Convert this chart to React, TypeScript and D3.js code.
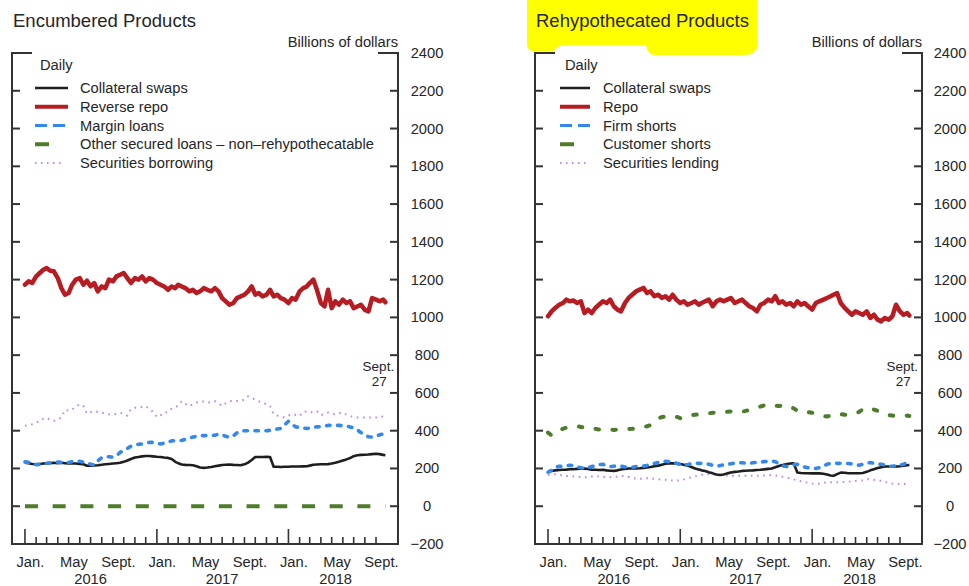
import React from "react";
import * as d3 from "d3";

// ---------- categories (observation dates: 1st, 11th, 21st of each month, plus Sept. 27, 2018) ----------
const OBS_DAYS = [1, 11, 21];
const FIRST_YEAR = 2016;
const N_MONTHS = 33; // Jan 2016 .. Sept 2018
const LAST_OBS = "2018-09-27";

function buildDates(): Date[] {
  const out: Date[] = [];
  for (let m = 0; m < N_MONTHS; m++) for (const d of OBS_DAYS) out.push(new Date(FIRST_YEAR, m, d));
  out.push(new Date(LAST_OBS + "T00:00:00"));
  return out;
}
const DATES = buildDates();

const Y_TICKS = [-200, 0, 200, 400, 600, 800, 1000, 1200, 1400, 1600, 1800, 2000, 2200, 2400];
const MONTH_LABELS = [
  { month: 0, label: "Jan." },
  { month: 4, label: "May" },
  { month: 8, label: "Sept." },
];
const YEARS = [2016, 2017, 2018];
const YEAR_LABEL_DATES = ["2016-07-01", "2017-07-01", "2018-05-12"];

// ---------- Encumbered products (left) ----------
const encCollateralSwaps = [
  231, 228, 224, 222, 224, 226, 227, 228, 230, 228,
  230, 228, 226, 226, 226, 224, 222, 214, 214, 216,
  217, 220, 222, 224, 226, 228, 230, 235, 242, 250,
  258, 261, 264, 266, 266, 264, 262, 261, 258, 256,
  250, 235, 228, 221, 219, 218, 217, 212, 205, 203,
  205, 208, 212, 215, 218, 220, 221, 219, 218, 217,
  222, 231, 245, 261, 261, 261, 262, 261, 209, 209,
  208, 209, 209, 210, 210, 210, 211, 212, 215, 220,
  221, 222, 222, 223, 226, 230, 235, 242, 248, 255,
  265, 270, 272, 273, 274, 276, 278, 276, 272, 270,
];
const encReverseRepo = [
  1173, 1191, 1182, 1217, 1235, 1252, 1261, 1247, 1244, 1208,
  1155, 1120, 1129, 1173, 1200, 1208, 1173, 1194, 1164, 1182,
  1138, 1164, 1155, 1200, 1191, 1217, 1226, 1235, 1208, 1182,
  1208, 1200, 1217, 1191, 1208, 1200, 1182, 1173, 1164, 1146,
  1164, 1155, 1173, 1164, 1155, 1138, 1146, 1129, 1138, 1155,
  1146, 1138, 1155, 1138, 1102, 1085, 1067, 1076, 1102, 1111,
  1120, 1138, 1164, 1120, 1129, 1111, 1120, 1146, 1111, 1120,
  1102, 1094, 1076, 1102, 1094, 1138, 1155, 1164, 1182, 1200,
  1146, 1076, 1058, 1146, 1049, 1085, 1067, 1094, 1076, 1085,
  1049, 1058, 1067, 1040, 1032, 1102, 1094, 1085, 1094, 1080,
];
const encMarginLoans = [
  235, 232, 228, 220, 222, 226, 228, 230, 232, 234,
  232, 231, 232, 236, 240, 238, 234, 232, 222, 218,
  240, 258, 262, 262, 260, 268, 285, 296, 306, 318,
  324, 328, 330, 334, 338, 338, 334, 330, 334, 340,
  346, 348, 348, 348, 355, 362, 366, 370, 374, 374,
  374, 374, 376, 382, 378, 370, 365, 372, 388, 398,
  400, 400, 400, 400, 400, 400, 400, 402, 406, 409,
  412, 430, 450, 435, 420, 418, 414, 412, 414, 418,
  420, 422, 424, 428, 430, 430, 428, 426, 424, 420,
  414, 405, 390, 376, 368, 366, 370, 378, 383, 385,
];
const encOtherDates = ["2016-01-01", "2018-09-27"];
const encOtherSecured = [0, 0];
const encSecBorrowing = [
  426, 430, 434, 440, 455, 463, 468, 458, 452, 458,
  470, 510, 506, 512, 528, 540, 530, 490, 498, 502,
  500, 496, 490, 487, 487, 488, 494, 490, 480, 515,
  522, 522, 526, 530, 515, 500, 472, 482, 485, 508,
  516, 522, 535, 556, 542, 530, 540, 548, 555, 554,
  548, 552, 556, 545, 531, 545, 556, 557, 557, 557,
  565, 582, 572, 565, 556, 548, 540, 530, 487, 480,
  476, 470, 480, 487, 484, 478, 500, 502, 497, 498,
  503, 482, 488, 496, 490, 487, 492, 496, 485, 478,
  472, 470, 470, 470, 470, 470, 470, 472, 475, 470,
];

// ---------- Rehypothecated products (right) ----------
const rehCollateralSwaps = [
  185, 187, 190, 192, 193, 194, 196, 196, 198, 200,
  199, 197, 194, 193, 192, 193, 190, 188, 187, 190,
  194, 198, 200, 200, 200, 201, 203, 205, 208, 212,
  215, 220, 225, 227, 227, 226, 224, 220, 215, 208,
  200, 195, 190, 187, 180, 174, 168, 165, 168, 174,
  179, 182, 184, 187, 188, 189, 190, 192, 193, 195,
  198, 200, 206, 213, 218, 222, 226, 227, 179, 176,
  175, 175, 174, 174, 174, 172, 168, 163, 161, 170,
  178, 177, 175, 175, 175, 175, 176, 182, 190, 196,
  202, 207, 210, 210, 210, 210, 212, 215, 217, 218,
];
const rehRepo = [
  1006, 1032, 1050, 1067, 1076, 1094, 1085, 1090, 1076, 1085,
  1023, 1041, 1023, 1050, 1067, 1085, 1076, 1094, 1059, 1041,
  1032, 1076, 1103, 1120, 1138, 1147, 1156, 1129, 1138, 1112,
  1120, 1103, 1112, 1094, 1120, 1094, 1076, 1085, 1067, 1076,
  1085, 1067, 1076, 1085, 1094, 1059, 1085, 1094, 1085, 1094,
  1103, 1076, 1085, 1094, 1076, 1059, 1050, 1032, 1067, 1076,
  1094, 1085, 1112, 1076, 1085, 1067, 1076, 1059, 1085, 1067,
  1076, 1059, 1041, 1076, 1085, 1094, 1103, 1112, 1120, 1129,
  1076, 1050, 1032, 1014, 1032, 1023, 1014, 1032, 997, 1014,
  988, 979, 997, 988, 1006, 1067, 1032, 1014, 1023, 1010,
];
const rehFirmShorts = [
  180, 190, 205, 212, 210, 214, 217, 214, 208, 204,
  200, 204, 210, 215, 220, 222, 215, 210, 212, 214,
  212, 208, 205, 206, 210, 210, 212, 216, 222, 226,
  232, 238, 238, 236, 234, 228, 220, 217, 220, 225,
  227, 227, 227, 227, 222, 216, 213, 215, 220, 222,
  225, 228, 231, 230, 228, 227, 230, 233, 234, 236,
  238, 239, 236, 225, 214, 210, 214, 220, 222, 215,
  208, 204, 202, 200, 204, 212, 222, 226, 227, 227,
  227, 227, 226, 224, 220, 217, 222, 228, 231, 228,
  224, 222, 218, 212, 212, 215, 217, 222, 232, 234,
];
const rehCustomerShorts = [
  390, 375, 385, 400, 410, 416, 418, 422, 424, 420,
  416, 414, 416, 410, 406, 404, 405, 406, 404, 406,
  406, 406, 408, 410, 414, 418, 422, 423, 430, 450,
  465, 472, 475, 478, 476, 474, 466, 474, 478, 482,
  485, 486, 488, 490, 492, 495, 496, 497, 499, 500,
  502, 504, 505, 500, 505, 510, 515, 522, 528, 534,
  538, 536, 534, 530, 534, 536, 528, 518, 505, 497,
  495, 498, 495, 488, 482, 478, 475, 480, 486, 490,
  488, 484, 486, 487, 490, 500, 512, 522, 520, 512,
  505, 496, 488, 482, 480, 478, 476, 478, 480, 478,
];
const rehSecLending = [
  165, 168, 170, 166, 162, 160, 160, 158, 156, 154,
  153, 155, 158, 160, 158, 156, 154, 153, 155, 158,
  161, 160, 155, 150, 146, 145, 146, 148, 147, 145,
  143, 141, 140, 138, 136, 135, 138, 142, 148, 153,
  158, 161, 165, 168, 170, 168, 166, 165, 164, 163,
  162, 161, 161, 161, 161, 161, 161, 161, 162, 163,
  164, 165, 163, 160, 156, 153, 148, 142, 136, 132,
  128, 124, 120, 118, 120, 124, 127, 127, 127, 127,
  128, 129, 130, 132, 134, 135, 138, 142, 144, 140,
  136, 135, 130, 124, 120, 118, 118, 118, 120, 123,
];

// ---------- styles ----------
const FONT = '"Liberation Sans", Arial, Helvetica, sans-serif';
const TXT = "#262626";
const AXIS = "#333";
const C_BLACK = "#1e1e1e";
const C_RED = "#b71c22";
const C_BLUE = "#3388ee";
const C_GREEN = "#4d7c2a";
const C_PURPLE = "#b988f0";
const FS = 14.7;

type Kind = "black" | "red" | "blue" | "green" | "purple";
type Series = { name: string; kind: Kind; dates: Date[]; values: number[]; dash?: string; cap?: string };

const parse = (s: string) => new Date(s + "T00:00:00");

const STYLE: Record<Kind, { color: string; width: number; dash?: string; cap: string }> = {
  black: { color: C_BLACK, width: 2.6, cap: "butt" },
  red: { color: C_RED, width: 4.5, cap: "round" },
  blue: { color: C_BLUE, width: 3.6, dash: "3.5 7.5", cap: "round" },
  green: { color: C_GREEN, width: 4, dash: "13 14.7", cap: "butt" },
  purple: { color: C_PURPLE, width: 2, dash: "1.6 4.6", cap: "butt" },
};

const DRAW_ORDER: Kind[] = ["purple", "green", "black", "blue", "red"];

function Swatch({ kind, s0, s1, y }: { kind: Kind; s0: number; s1: number; y: number }) {
  const st = STYLE[kind];
  if (kind === "blue")
    return (
      <g stroke={st.color} strokeWidth={3}>
        <line x1={s0} x2={s0 + 12} y1={y} y2={y} />
        <line x1={s0 + 18} x2={s0 + 30} y1={y} y2={y} />
      </g>
    );
  if (kind === "green") return <line x1={s0} x2={s0 + 14} y1={y} y2={y} stroke={st.color} strokeWidth={4} />;
  if (kind === "purple")
    return <line x1={s0} x2={s0 + 26} y1={y} y2={y} stroke={st.color} strokeWidth={2} strokeDasharray="1.5 4.5" />;
  return <line x1={s0} x2={s1} y1={y} y2={y} stroke={st.color} strokeWidth={kind === "red" ? 4 : 2.5} />;
}

type PanelProps = {
  x0: number;
  x1: number;
  title: string;
  highlight?: boolean;
  series: Series[];
  legendSwatch: [number, number];
  legendText: number;
  labelX: number;
};

function Panel({ x0, x1, title, highlight, series, legendSwatch, legendText, labelX }: PanelProps) {
  const yTop = 53;
  const yBot = 544;
  const x = d3.scaleTime().domain([parse("2015-11-26"), parse("2018-11-01")]).range([x0, x1]);
  const y = d3.scaleLinear().domain([-200, 2400]).range([yBot, yTop]);
  const months = d3.timeMonth.range(new Date(2016, 0, 1), new Date(2018, 9, 1));
  const endX = x(parse(LAST_OBS));

  const ordered = DRAW_ORDER.map((k) => series.find((s) => s.kind === k)!).filter(Boolean);

  return (
    <g fontFamily={FONT} fill={TXT}>
      {highlight && (
        <path
          d={`M${x0 - 8},0 L${x0 + 223},0 L${x0 + 223},44 C${x0 + 222},52 ${x0 + 217},55 ${x0 + 209},55 L${x0 + 120},55 C${x0 + 114},55 ${x0 + 112},50 ${x0 + 111},45 L${x0 + 27},45 C${x0 + 23},45 ${x0 + 21},52 ${x0 + 13},52 L${x0 - 3},51 C${x0 - 7},50 ${x0 - 8},46 ${x0 - 8},42 Z`}
          fill="#ffff00"
        />
      )}
      <text x={x0 + 1} y={27} fontSize={18.5}>
        {title}
      </text>
      <text x={x1} y={47} fontSize={FS} textAnchor="end">
        Billions of dollars
      </text>

      {/* series */}
      <g fill="none">
        {ordered.map((s) => {
          const st = STYLE[s.kind];
          const line = d3
            .line<number>()
            .x((_, i) => x(s.dates[i]))
            .y((v) => y(v));
          return (
            <path
              key={s.name}
              d={line(s.values) || ""}
              stroke={st.color}
              strokeWidth={st.width}
              strokeDasharray={s.dash ?? st.dash}
              strokeLinecap={(s.cap ?? st.cap) as any}
              strokeLinejoin="round"
            />
          );
        })}
      </g>

      {/* frame */}
      <g stroke={AXIS} strokeWidth={2} fill="none">
        <line x1={x0} x2={x0} y1={yTop - 1} y2={yBot + 1} />
        <line x1={x1} x2={x1} y1={yTop - 1} y2={yBot + 1} />
        <line x1={x0 - 1} x2={x1 + 1} y1={yBot} y2={yBot} />
        {Y_TICKS.filter((v) => v > -200).map((v) => {
          const len = v === 2400 ? 20 : 8;
          return (
            <g key={v}>
              <line x1={x0} x2={x0 + len} y1={y(v)} y2={y(v)} />
              <line x1={x1 - len} x2={x1} y1={y(v)} y2={y(v)} />
            </g>
          );
        })}
        {months.map((m) => {
          const major = m.getMonth() === 0;
          return <line key={+m} x1={x(m)} x2={x(m)} y1={yBot} y2={yBot - (major ? 15 : 7)} strokeWidth={1.6} />;
        })}
      </g>

      {/* y labels */}
      <g fontSize={FS} textAnchor="middle">
        {Y_TICKS.map((v) => (
          <text key={v} x={labelX} y={y(v) + 5}>
            {v < 0 ? "\u2212" + Math.abs(v) : v}
          </text>
        ))}
      </g>

      {/* x labels */}
      <g fontSize={FS} textAnchor="middle">
        {YEARS.map((yr) =>
          MONTH_LABELS.map((ml) => (
            <text key={yr + "-" + ml.month} x={x(new Date(yr, ml.month, 16))} y={567}>
              {ml.label}
            </text>
          ))
        )}
        {YEARS.map((yr, i) => (
          <text key={yr} x={x(parse(YEAR_LABEL_DATES[i]))} y={584}>
            {yr}
          </text>
        ))}
      </g>

      {/* end annotation */}
      <g fontSize={13.5} textAnchor="middle">
        <text x={endX - 7} y={371}>
          Sept.
        </text>
        <text x={endX - 6} y={386}>
          27
        </text>
      </g>

      {/* legend */}
      <text x={legendSwatch[0] + 5} y={70} fontSize={FS}>
        Daily
      </text>
      {series.map((s, i) => {
        const cy = 88 + i * 18.75;
        return (
          <g key={s.name}>
            <Swatch kind={s.kind} s0={legendSwatch[0]} s1={legendSwatch[1]} y={cy} />
            <text x={legendText} y={cy + 5} fontSize={FS}>
              {s.name}
            </text>
          </g>
        );
      })}
    </g>
  );
}

export default function App() {
  const leftSeries: Series[] = [
    { name: "Collateral swaps", kind: "black", dates: DATES, values: encCollateralSwaps },
    { name: "Reverse repo", kind: "red", dates: DATES, values: encReverseRepo },
    { name: "Margin loans", kind: "blue", dates: DATES, values: encMarginLoans },
    {
      name: "Other secured loans \u2013 non\u2013rehypothecatable",
      kind: "green",
      dates: encOtherDates.map(parse),
      values: encOtherSecured,
    },
    { name: "Securities borrowing", kind: "purple", dates: DATES, values: encSecBorrowing },
  ];
  const rightSeries: Series[] = [
    { name: "Collateral swaps", kind: "black", dates: DATES, values: rehCollateralSwaps },
    { name: "Repo", kind: "red", dates: DATES, values: rehRepo },
    { name: "Firm shorts", kind: "blue", dates: DATES, values: rehFirmShorts },
    { name: "Customer shorts", kind: "green", dates: DATES, values: rehCustomerShorts, dash: "3.5 13.5", cap: "round" },
    { name: "Securities lending", kind: "purple", dates: DATES, values: rehSecLending },
  ];
  return (
    <svg
      width={969}
      height={586}
      viewBox="0 0 969 586"
      style={{ position: "absolute", left: 0, top: 0, display: "block", background: "#fff" }}
    >
      <rect width={969} height={586} fill="#fff" />
      <Panel
        x0={12}
        x1={398}
        title="Encumbered Products"
        series={leftSeries}
        legendSwatch={[35, 68]}
        legendText={80}
        labelX={427}
      />
      <Panel
        x0={535}
        x1={922}
        title="Rehypothecated Products"
        highlight
        series={rightSeries}
        legendSwatch={[560, 590]}
        legendText={603}
        labelX={950}
      />
    </svg>
  );
}
